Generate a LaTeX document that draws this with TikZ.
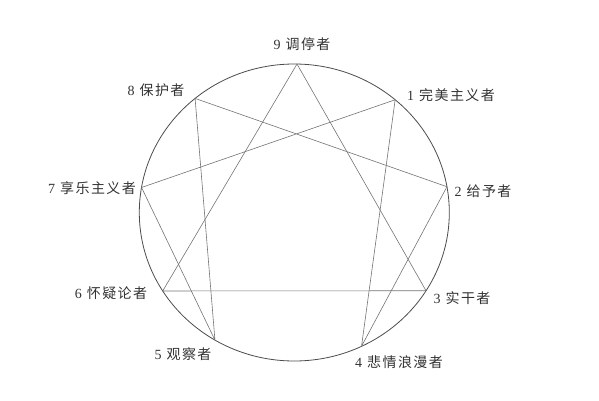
\documentclass[tikz,border=0pt]{standalone}
\usepackage{fontspec}
\setmainfont{Liberation Serif}
\newfontfamily\cjk[LetterSpace=10]{Noto Sans CJK SC}
\definecolor{ringcol}{gray}{0.3}
\definecolor{starcol}{gray}{0.45}
\definecolor{textcol}{gray}{0.2}
\tikzset{
  ring/.style={draw=ringcol, line width=0.8pt},
  star/.style={draw=starcol, line width=0.6pt, line join=round},
  typelabel/.style={text=textcol, inner sep=0pt, font=\fontsize{14}{16}\selectfont}
}
\newcommand{\typename}[2]{#1\hspace{5pt}{\cjk #2}}
\begin{document}
\begin{tikzpicture}[x=1pt,y=1pt]
    \useasboundingbox (0,0) rectangle (599,400);

    % Circle
    \coordinate (c) at (294.3,187.5);
    \draw[ring] (c) ellipse (155 and 148.5);

    % Points on the circle
    \foreach \n/\a in {9/89,1/49.4,2/10,3/-31.8,4/-64.3,5/239.2,6/211.9,7/170.3,8/129.8}
        \coordinate (p\n) at ([shift={(\a:155 and 148.5)}]c);

    % Triangle
    \draw[star] (p9) -- (p3) -- (p6) -- cycle;
    % Hexad
    \draw[star] (p1) -- (p4) -- (p2) -- (p8) -- (p5) -- (p7) -- cycle;

    % Labels
    \node[typelabel] (l9) at (302,356) {\typename{9}{调停者}};
    \node[typelabel] (l1) at (451,305) {\typename{1}{完美主义者}};
    \node[typelabel] (l2) at (483,209) {\typename{2}{给予者}};
    \node[typelabel] (l3) at (462,102) {\typename{3}{实干者}};
    \node[typelabel] (l4) at (399,38) {\typename{4}{悲情浪漫者}};
    \node[typelabel] (l5) at (183,46) {\typename{5}{观察者}};
    \node[typelabel] (l6) at (111,107) {\typename{6}{怀疑论者}};
    \node[typelabel] (l7) at (92,212) {\typename{7}{享乐主义者}};
    \node[typelabel] (l8) at (156,310) {\typename{8}{保护者}};

\end{tikzpicture}
\end{document}
